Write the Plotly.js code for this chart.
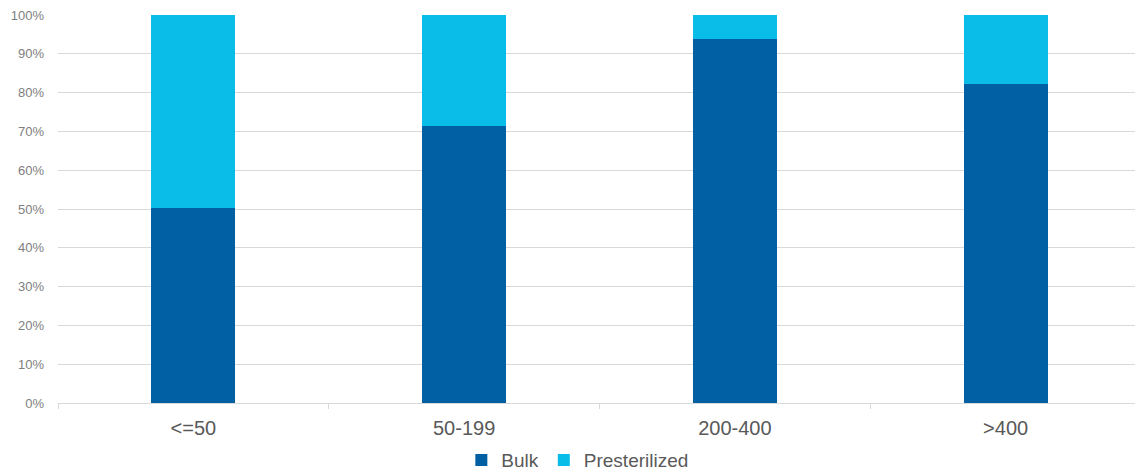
<!DOCTYPE html>
<html>
<head>
<meta charset="utf-8">
<script src="https://cdn.plot.ly/plotly-3.0.1.min.js"></script>
<style>
  html, body { margin: 0; padding: 0; overflow: hidden; background: #fff; }
  #chart { width: 1141px; height: 472px; }
</style>
</head>
<body>
<div id="chart"></div>
<script>
// Share of each pack type by facility size (percent of total)
const sizeGroups = ['<=50', '50-199', '200-400', '>400'];
const bulkShare = [50.3, 71.4, 93.8, 82.2];
const presterilizedShare = [49.7, 28.6, 6.2, 17.8];
const yTickVals = [0, 10, 20, 30, 40, 50, 60, 70, 80, 90, 100];
const yTickText = ['0%', '10%', '20%', '30%', '40%', '50%', '60%', '70%', '80%', '90%', '100%'];

const traces = [
  {
    type: 'bar', name: 'Bulk', x: sizeGroups, y: bulkShare,
    marker: { color: '#0160A3', line: { width: 0 } },
    hoverinfo: 'skip'
  },
  {
    type: 'bar', name: 'Presterilized', x: sizeGroups, y: presterilizedShare,
    marker: { color: '#0ABDE8', line: { width: 0 } },
    hoverinfo: 'skip'
  }
];

const layout = {
  width: 1141, height: 472,
  barmode: 'stack',
  bargap: 0.69,
  paper_bgcolor: '#fff', plot_bgcolor: '#fff',
  margin: { l: 58, r: 0, t: 15, b: 69, autoexpand: false },
  font: { family: 'Liberation Sans, Arial, sans-serif', color: '#595959' },
  showlegend: true,
  legend: {
    orientation: 'h', x: 0.48, xanchor: 'center',
    yref: 'container', y: 0.025, yanchor: 'middle',
    font: { size: 19, color: '#595959' }, traceorder: 'normal',
    itemwidth: 30
  },
  xaxis: {
    type: 'category', showgrid: false, zeroline: false,
    showline: true, linecolor: '#d9d9d9', linewidth: 1,
    ticks: 'outside', tickson: 'boundaries', ticklen: 5, tickcolor: '#d9d9d9',
    tickfont: { size: 20, color: '#595959' }, ticklabelstandoff: 7
  },
  yaxis: {
    range: [0, 100], tickvals: yTickVals, ticktext: yTickText,
    showgrid: true, gridcolor: '#d9d9d9', gridwidth: 1,
    zeroline: false, showline: false, ticks: '',
    tickfont: { size: 13, color: '#808080' }, ticklabelstandoff: 13
  }
};

Plotly.newPlot('chart', traces, layout, { displayModeBar: false, staticPlot: true });
</script>
</body>
</html>
